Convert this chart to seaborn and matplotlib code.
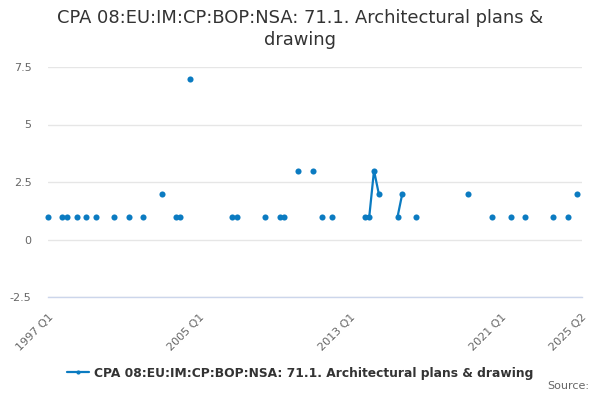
import numpy as np
import pandas as pd
import seaborn as sns
from matplotlib import pyplot as plt
from matplotlib.lines import Line2D

series_name = 'CPA 08:EU:IM:CP:BOP:NSA: 71.1. Architectural plans & drawing'
title = 'CPA 08:EU:IM:CP:BOP:NSA: 71.1. Architectural plans &\ndrawing'

first_quarter = '1997Q1'
last_quarter = '2025Q2'

# quarters that have a value (all others are missing)
obs_quarters = ['1997Q1', '1997Q4', '1998Q1', '1998Q3', '1999Q1', '1999Q3',
                '2000Q3', '2001Q2', '2002Q1', '2003Q1', '2003Q4', '2004Q1',
                '2004Q3', '2006Q4', '2007Q1', '2008Q3', '2009Q2', '2009Q3',
                '2010Q2', '2011Q1', '2011Q3', '2012Q1', '2013Q4', '2014Q1',
                '2014Q2', '2014Q3', '2015Q3', '2015Q4', '2016Q3', '2019Q2',
                '2020Q3', '2021Q3', '2022Q2', '2023Q4', '2024Q3', '2025Q1']
obs_values = [1, 1, 1, 1, 1, 1,
              1, 1, 1, 2, 1, 1,
              7, 1, 1, 1, 1, 1,
              3, 3, 1, 1, 1, 1,
              3, 2, 1, 2, 1, 2,
              1, 1, 1, 1, 1, 2]

labelled_quarters = ['1997Q1', '2005Q1', '2013Q1', '2021Q1', '2025Q2']
y_ticks = [-2.5, 0, 2.5, 5, 7.5]
y_tick_labels = ['-2.5', '0', '2.5', '5', '7.5']

line_color = '#0b7bc1'

# build the full quarterly table, gaps stay NaN
quarters = pd.period_range(first_quarter, last_quarter, freq='Q')
df = pd.DataFrame({'quarter': quarters.astype(str)})
df['pos'] = np.arange(len(df))
df = df.merge(pd.DataFrame({'quarter': obs_quarters, 'value': obs_values}),
              on='quarter', how='left')
# each run of consecutive values becomes its own line
df['segment'] = df['value'].isna().cumsum()
plot_df = df.dropna(subset=['value'])

sns.set_style('white')
plt.rcParams['font.family'] = ['DejaVu Sans']

fig = plt.figure(figsize=(6, 4), dpi=100)
ax = fig.add_axes([0.0805, 0.2575, 0.889, 0.575])

sns.lineplot(data=plot_df, x='pos', y='value', units='segment', estimator=None,
             color=line_color, linewidth=1.6, marker='o', markersize=4.4,
             markeredgewidth=0, ax=ax, legend=False)
for line in ax.lines:
    line.set_clip_on(False)

ax.set_xlim(0, len(df) - 1)
ax.set_ylim(-2.5, 7.5)
ax.set_yticks(y_ticks)
ax.set_yticklabels(y_tick_labels)
ax.grid(axis='y', color='#e6e6e6', linewidth=1)
ax.set_axisbelow(True)

tick_pos = list(range(0, len(df) - 1, 8)) + [len(df) - 1]
tick_labels = []
for p in tick_pos:
    q = df['quarter'][p]
    tick_labels.append(q[:4] + ' ' + q[4:] if q in labelled_quarters else '')
ax.set_xticks(tick_pos)
ax.set_xticklabels(tick_labels, rotation=45, ha='right', rotation_mode='anchor')

for side in ['top', 'right', 'left']:
    ax.spines[side].set_visible(False)
ax.spines['bottom'].set_color('#ccd6eb')
ax.spines['bottom'].set_linewidth(1)
ax.tick_params(axis='x', colors='#ccd6eb', length=9, width=1, labelcolor='#666666',
               labelsize=8, pad=2)
ax.tick_params(axis='y', length=0, labelcolor='#666666', labelsize=8, pad=12)
ax.set_xlabel('')
ax.set_ylabel('')

fig.text(0.5, 0.978, title, ha='center', va='top', fontsize=12.9, color='#333333',
         linespacing=1.3)

handle = Line2D([], [], color=line_color, linewidth=1.6, marker='o', markersize=3,
                markeredgewidth=0)
fig.legend([handle], [series_name], loc='center', bbox_to_anchor=(0.5, 0.067),
           frameon=False, prop={'weight': 'bold', 'size': 8.8}, handlelength=1.8,
           handletextpad=0.4, labelcolor='#333333')

fig.text(0.982, 0.022, 'Source:', ha='right', va='bottom', fontsize=8, color='#666666')

plt.savefig('out.png', dpi=100)
